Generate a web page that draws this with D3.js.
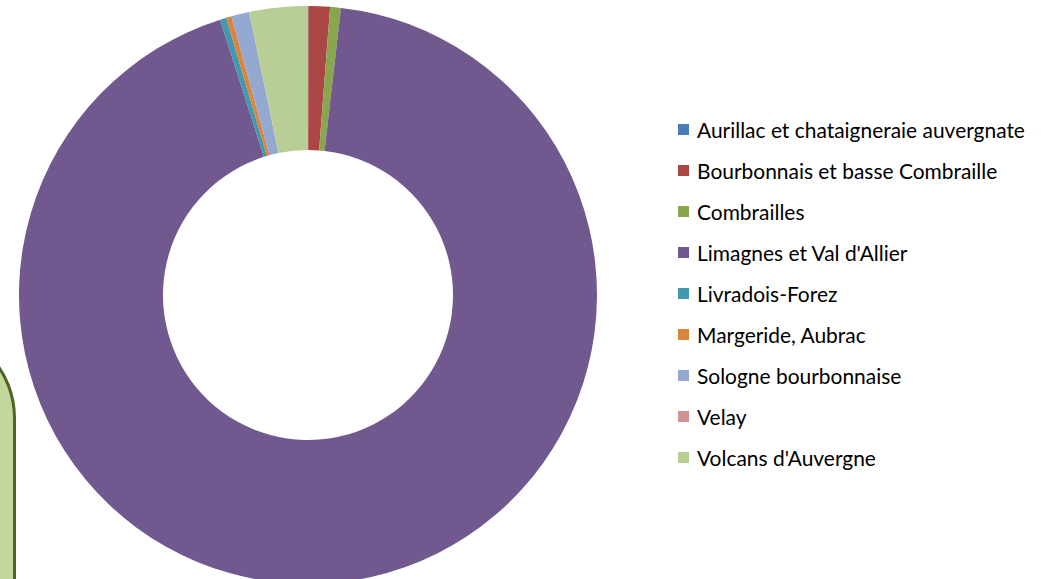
<!DOCTYPE html>
<html>
<head>
<meta charset="utf-8">
<script src="https://cdn.jsdelivr.net/npm/d3@7"></script>
<style>
  html, body { margin: 0; padding: 0; background: #fff; overflow: hidden; }
  svg { display: block; }
  .legend text { font-family: Lato, "Open Sans", sans-serif; font-size: 18px; fill: #000; }
</style>
</head>
<body>
<div id="chart"></div>
<script>
const regions = [
  "Aurillac et chataigneraie auvergnate",
  "Bourbonnais et basse Combraille",
  "Combrailles",
  "Limagnes et Val d'Allier",
  "Livradois-Forez",
  "Margeride, Aubrac",
  "Sologne bourbonnaise",
  "Velay",
  "Volcans d'Auvergne"
];
const shares = [0.02, 1.2, 0.6, 93.3, 0.35, 0.3, 1.0, 0.02, 3.25];
const colors = ["#4A7DB6", "#AA4643", "#89A54E", "#71588F", "#4198AF", "#DB843D", "#93A9CF", "#D19392", "#B9CD96"];

const width = 1050, height = 579;
const cx = 308, cy = 295, outerR = 289, innerR = 145;

const svg = d3.select("#chart").append("svg").attr("width", width).attr("height", height);

// partially visible text box at the left edge
svg.append("rect")
  .attr("x", -200).attr("y", 328).attr("width", 214.5).attr("height", 400)
  .attr("rx", 90).attr("ry", 90)
  .attr("fill", "#C3D69B").attr("stroke", "#4F6228").attr("stroke-width", 3);

const pie = d3.pie().value(d => d).sort(null);
const arc = d3.arc().innerRadius(innerR).outerRadius(outerR);

svg.append("g").attr("transform", `translate(${cx},${cy})`)
  .selectAll("path").data(pie(shares)).enter().append("path")
  .attr("d", arc).attr("fill", (d, i) => colors[i]);

const y = d3.scalePoint().domain(regions).range([131, 459]);
const legend = svg.append("g").attr("class", "legend");
const item = legend.selectAll("g").data(regions).enter().append("g")
  .attr("transform", d => `translate(678,${y(d)})`);
item.append("rect").attr("x", 0).attr("y", -7).attr("width", 11).attr("height", 11)
  .attr("fill", (d, i) => colors[i]);
item.append("text").attr("x", 19).attr("dy", "0.35em").text(d => d);

// fit the font to the width of the longest label in the reference (about 328px)
const w = item.select("text").node().getComputedTextLength();
const fs = 18 * 328 / w;
legend.selectAll("text").style("font-size", fs + "px");
</script>
</body>
</html>
